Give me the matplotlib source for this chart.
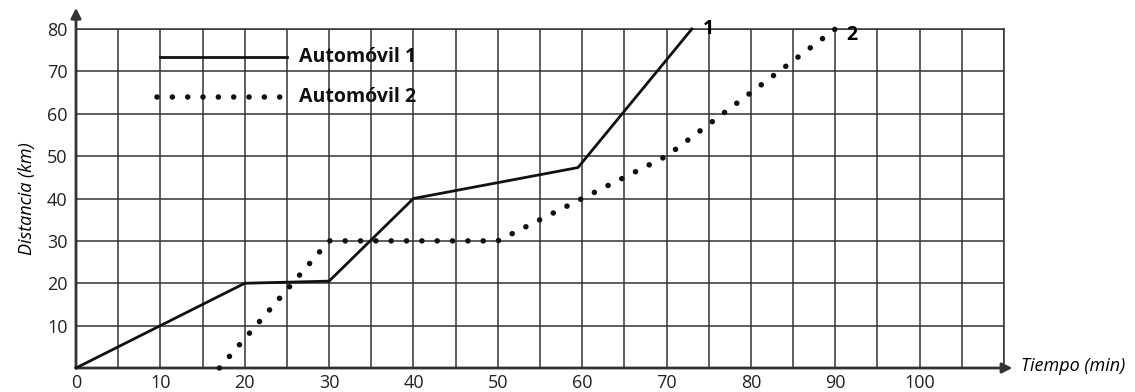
import matplotlib.pyplot as plt
import numpy as np

# Datos de las dos curvas (tiempo en min, distancia en km)
t1 = [0, 20, 30, 40, 59.5, 73]
d1 = [0, 20, 20.5, 40, 47.3, 80]
t2 = [17, 30, 50, 70, 90]
d2 = [0, 30, 30, 50, 80]

xticks = [0, 10, 20, 30, 40, 50, 60, 70, 80, 90, 100]
yticks = [10, 20, 30, 40, 50, 60, 70, 80]
legend_names = ["Automóvil 1", "Automóvil 2"]

plt.rcParams['font.family'] = ['Open Sans', 'DejaVu Sans']

fig = plt.figure(figsize=(11.35, 3.92), dpi=100)
ax = fig.add_axes([76 / 1135, 24 / 392, 928 / 1135, 339 / 392])
ax.set_xlim(0, 110)
ax.set_ylim(0, 80)

# Cuadricula
ax.set_xticks(xticks)
ax.set_xticks(np.arange(0, 111, 5), minor=True)
ax.set_yticks(yticks)
ax.grid(True, which='both', color='#333333', linewidth=1.1)
ax.tick_params(which='both', length=0, labelsize=13, colors='#222222')
ax.tick_params(axis='x', pad=4)
ax.tick_params(axis='y', pad=6)
for s in ['top', 'right']:
    ax.spines[s].set_color('#333333')
    ax.spines[s].set_linewidth(1.1)
for s in ['left', 'bottom']:
    ax.spines[s].set_visible(False)

# Ejes con flechas
ax.annotate('', xy=(111, 0), xytext=(0, 0), annotation_clip=False,
            arrowprops=dict(arrowstyle='-|>', color='#333333', lw=2,
                            mutation_scale=15, shrinkA=0, shrinkB=0))
ax.annotate('', xy=(0, 85), xytext=(0, 0), annotation_clip=False,
            arrowprops=dict(arrowstyle='-|>', color='#333333', lw=2,
                            mutation_scale=15, shrinkA=0, shrinkB=0))

# Curvas
ax.plot(t1, d1, color='#111111', linewidth=2, clip_on=False, zorder=5)
ax.plot(t2, d2, color='#111111', linewidth=4, dashes=(0.01, 2.75),
        dash_capstyle='round', clip_on=False, zorder=5)

# Leyenda dibujada a mano
ax.plot([10, 25], [73.3, 73.3], color='#111111', linewidth=2)
ax.plot([9.6, 25], [64, 64], color='#111111', linewidth=4,
        dashes=(0.01, 2.75), dash_capstyle='round')
ax.text(26.4, 73.3, legend_names[0], fontsize=14, fontweight='bold',
        va='center', ha='left', color='#111111')
ax.text(26.4, 64, legend_names[1], fontsize=14, fontweight='bold',
        va='center', ha='left', color='#111111')

ax.text(74.3, 80, '1', fontsize=14, fontweight='bold', va='center', ha='left')
ax.text(91.3, 78.5, '2', fontsize=14, fontweight='bold', va='center', ha='left')

ax.set_ylabel('Distancia (km)', fontsize=13, style='italic', labelpad=8)
ax.text(112, 0.5, 'Tiempo (min)', fontsize=13, style='italic',
        va='center', ha='left')

fig.savefig('out.png', dpi=100)
